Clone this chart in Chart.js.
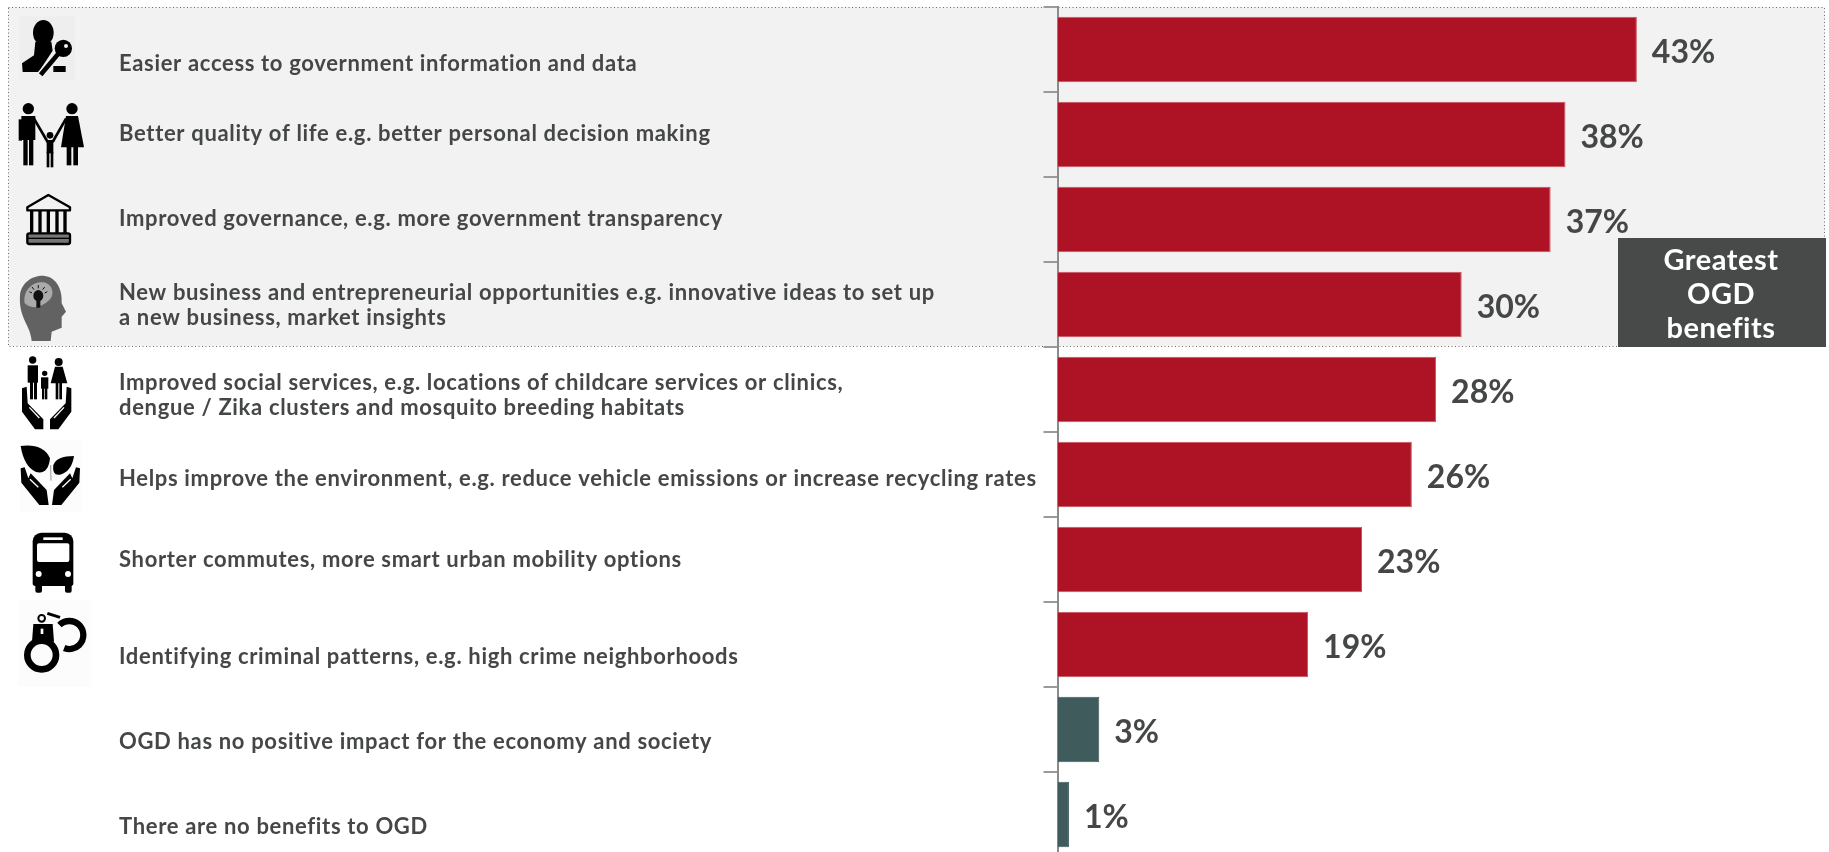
<!DOCTYPE html>
<html>
<head>
<meta charset="utf-8">
<style>
html, body { margin: 0; padding: 0; background: #fff; overflow: hidden; height: 852px; }
canvas { display: block; }
</style>
<script src="https://cdn.jsdelivr.net/npm/chart.js@4/dist/chart.umd.min.js"></script>
</head>
<body>
<canvas id="chart"></canvas>
<script>
const categories = [
    ['Easier access to government information and data'],
    ['Better quality of life e.g. better personal decision making'],
    ['Improved governance, e.g. more government transparency'],
    ['New business and entrepreneurial opportunities e.g. innovative ideas to set up', 'a new business, market insights'],
    ['Improved social services, e.g. locations of childcare services or clinics,', 'dengue / Zika clusters and mosquito breeding habitats'],
    ['Helps improve the environment, e.g. reduce vehicle emissions or increase recycling rates'],
    ['Shorter commutes, more smart urban mobility options'],
    ['Identifying criminal patterns, e.g. high crime neighborhoods'],
    ['OGD has no positive impact for the economy and society'],
    ['There are no benefits to OGD']
];
const shares = [43, 37.7, 36.6, 30, 28.1, 26.3, 22.6, 18.6, 3.1, 0.85];
const shareLabels = ['43%', '38%', '37%', '30%', '28%', '26%', '23%', '19%', '3%', '1%'];
const calloutLines = ['Greatest', 'OGD', 'benefits'];

// the labels do not sit on the bar centres in the original
const labelNudge = [14, -1, -1, 1, 6, 4, 0, 12, 12, 12];
const RED = '#ae1325', TEAL = '#3f5b5c', TEXT = '#444746';
const LABEL_FONT = '700 22px Lato';
const VALUE_FONT = '700 32px Lato';

const ctx = document.getElementById('chart').getContext('2d');
ctx.canvas.width = 1829;
ctx.canvas.height = 858;

// icons are drawn in the coordinates of a 3x crop, see iconAt
const iconAt = (c, top, draw) => {
    c.save();
    c.translate(10, top);
    c.scale(1 / 3, 1 / 3);
    c.fillStyle = c.strokeStyle = '#000';
    c.lineJoin = 'round';
    draw(c);
    c.restore();
};
const poly = (c, pts) => {
    c.beginPath();
    pts.forEach((p, i) => i ? c.lineTo(p[0], p[1]) : c.moveTo(p[0], p[1]));
    c.closePath();
    c.fill();
};
const box = (c, x0, y0, x1, y1) => c.fillRect(x0, y0, x1 - x0, y1 - y0);
const dot = (c, x, y, r) => { c.beginPath(); c.arc(x, y, r, 0, Math.PI * 2); c.fill(); };
const seg = (c, x0, y0, x1, y1, w) => {
    c.lineWidth = w;
    c.beginPath(); c.moveTo(x0, y0); c.lineTo(x1, y1); c.stroke();
};

const iconKey = c => {
    c.fillStyle = '#eeeeee'; box(c, 28, 20, 195, 210); c.fillStyle = '#000';
    c.beginPath(); c.ellipse(100, 68, 31, 38, 0, 0, Math.PI * 2); c.fill();
    poly(c, [[76, 95], [124, 95], [128, 122], [86, 186], [38, 186], [36, 160], [72, 136]]);
    box(c, 130, 168, 167, 186);
    c.strokeStyle = '#f2f2f2';
    seg(c, 150, 125, 90, 196, 22);
    c.fillStyle = '#f2f2f2'; dot(c, 160, 115, 30); c.fillStyle = '#000';
    c.strokeStyle = '#000';
    seg(c, 150, 125, 92, 194, 14);
    dot(c, 160, 115, 26);
    c.fillStyle = '#f2f2f2'; dot(c, 168, 108, 6);
};
const iconFamily = c => {
    dot(c, 55, 296, 17);
    box(c, 34, 318, 76, 390);
    seg(c, 31, 328, 31, 392, 10);
    box(c, 40, 385, 53, 466); box(c, 57, 385, 70, 466);
    seg(c, 72, 326, 113, 396, 8);
    dot(c, 120, 376, 10);
    box(c, 110, 390, 130, 430); box(c, 110, 425, 118, 472); box(c, 122, 425, 130, 472);
    seg(c, 128, 396, 168, 326, 8);
    dot(c, 186, 296, 17);
    poly(c, [[168, 318], [204, 318], [222, 412], [153, 412]]);
    box(c, 170, 410, 184, 466); box(c, 190, 410, 204, 466);
};
const iconBank = c => {
    c.lineWidth = 7;
    c.beginPath();
    c.moveTo(52, 106); c.lineTo(52, 97); c.lineTo(115, 60); c.lineTo(180, 97); c.lineTo(180, 106);
    c.closePath(); c.stroke();
    [60, 85, 110, 136, 160].forEach(x => box(c, x, 108, x + 10, 176));
    c.fillStyle = '#777'; c.beginPath(); c.roundRect(52, 175, 128, 32, 6); c.fill(); c.stroke();
    c.fillStyle = '#000'; box(c, 54, 188, 178, 192);
};
const iconHead = c => {
    c.fillStyle = '#626262';
    c.beginPath();
    c.moveTo(65, 498);
    c.bezierCurveTo(62, 450, 25, 430, 30, 360);
    c.bezierCurveTo(35, 315, 80, 298, 105, 303);
    c.bezierCurveTo(140, 308, 158, 345, 155, 385);
    c.lineTo(168, 410); c.lineTo(155, 425); c.lineTo(155, 458);
    c.lineTo(125, 470); c.lineTo(122, 498);
    c.closePath(); c.fill();
    c.fillStyle = '#aaa';
    c.beginPath();
    c.moveTo(44, 385);
    c.bezierCurveTo(38, 340, 75, 318, 100, 322);
    c.bezierCurveTo(128, 326, 136, 360, 118, 375);
    c.bezierCurveTo(100, 392, 70, 408, 44, 385);
    c.fill();
    c.fillStyle = c.strokeStyle = '#111';
    c.beginPath(); c.ellipse(85, 362, 15, 17, 0, 0, Math.PI * 2); c.fill();
    box(c, 79, 376, 91, 398);
    seg(c, 85, 330, 85, 340, 3); seg(c, 58, 350, 66, 354, 3); seg(c, 112, 350, 104, 354, 3);
    seg(c, 66, 336, 72, 344, 3); seg(c, 104, 336, 98, 344, 3);
};
const hand = (c, pts, fold, mirror) => {
    const m = p => [mirror - p[0], p[1]];
    [pts, pts.map(m)].forEach(shape => poly(c, shape));
    c.strokeStyle = '#fff';
    [fold, fold.map(m)].forEach(f => seg(c, f[0][0], f[0][1], f[1][0], f[1][1], 4));
    c.strokeStyle = '#000';
};
const iconCare = c => {
    dot(c, 68, 30, 11);
    box(c, 53, 46, 84, 98); box(c, 60, 96, 69, 148); box(c, 72, 96, 81, 148);
    dot(c, 104, 70, 8);
    box(c, 93, 82, 115, 116); box(c, 96, 114, 103, 148); box(c, 105, 114, 112, 148);
    dot(c, 146, 36, 12);
    poly(c, [[135, 50], [158, 50], [172, 100], [122, 100]]);
    box(c, 137, 98, 145, 148); box(c, 148, 98, 156, 148);
    hand(c, [[36, 115], [50, 110], [53, 160], [100, 208], [100, 238], [75, 238], [36, 185]],
        [[58, 172], [88, 204]], 220);
};
const iconPlant = c => {
    c.fillStyle = '#fcfcfc'; box(c, 30, 270, 215, 485); c.fillStyle = '#000';
    c.beginPath();
    c.moveTo(32, 288); c.quadraticCurveTo(100, 280, 120, 325);
    c.quadraticCurveTo(115, 375, 78, 366); c.quadraticCurveTo(42, 350, 32, 288);
    c.fill();
    c.beginPath();
    c.moveTo(192, 318); c.quadraticCurveTo(140, 318, 130, 345);
    c.quadraticCurveTo(125, 378, 150, 374); c.quadraticCurveTo(185, 365, 192, 318);
    c.fill();
    c.strokeStyle = '#999'; seg(c, 122, 345, 123, 392, 3); c.strokeStyle = '#000';
    hand(c, [[32, 355], [44, 352], [55, 385], [62, 370], [110, 420], [116, 465], [88, 465], [34, 398]],
        [[60, 388], [85, 412]], 242);
};
const iconBus = c => {
    c.beginPath(); c.roundRect(68, 38, 122, 160, [26, 26, 8, 8]); c.fill();
    c.beginPath(); c.roundRect(76, 190, 20, 28, 6); c.fill();
    c.beginPath(); c.roundRect(165, 190, 20, 28, 6); c.fill();
    c.fillStyle = '#fff';
    box(c, 100, 52, 158, 60);
    c.beginPath(); c.roundRect(81, 70, 97, 56, 6); c.fill();
    dot(c, 86, 162, 9); dot(c, 174, 162, 9);
};
const iconCuffs = c => {
    c.fillStyle = '#fcfcfc'; box(c, 25, 240, 245, 500); c.fillStyle = '#000';
    c.lineWidth = 20;
    c.beginPath(); c.arc(95, 405, 43, 0, Math.PI * 2); c.stroke();
    poly(c, [[70, 312], [128, 312], [132, 365], [66, 365]]);
    c.fillStyle = '#fff'; box(c, 92, 326, 100, 342); c.fillStyle = '#000';
    c.lineWidth = 6;
    c.beginPath(); c.arc(95, 295, 10, 0, Math.PI * 2); c.stroke();
    seg(c, 112, 280, 150, 292, 9);
    c.lineWidth = 19;
    c.beginPath(); c.arc(178, 345, 42, -Math.PI * 0.75, Math.PI * 0.62); c.stroke();
};

const iconList = [
    [10, iconKey], [10, iconFamily], [175, iconBank], [175, iconHead],
    [350, iconCare], [350, iconPlant], [520, iconBus], [520, iconCuffs]
];

const panelPlugin = {
    id: 'panel',
    beforeDraw(chart) {
        const c = chart.ctx;
        c.save();
        c.fillStyle = '#f2f2f2';
        c.fillRect(8, 7, 1817, 339);
        c.strokeStyle = '#6f6f6f';
        c.lineWidth = 1;
        c.setLineDash([1, 2.5]);
        c.strokeRect(8.5, 7.5, 1816, 339);
        c.restore();
    }
};

const textPlugin = {
    id: 'texts',
    afterDraw(chart) {
        const c = chart.ctx, y = chart.scales.y, x = chart.scales.x;
        c.save();
        c.textBaseline = 'middle';
        c.textAlign = 'left';
        c.fillStyle = TEXT;

        c.font = LABEL_FONT;
        c.letterSpacing = '0.67px';
        categories.forEach((lines, i) => {
            const mid = y.getPixelForValue(i) + labelNudge[i];
            lines.forEach((line, j) => {
                c.fillText(line, 119, mid + (j - (lines.length - 1) / 2) * 25);
            });
        });

        c.font = VALUE_FONT;
        c.letterSpacing = '0px';
        shares.forEach((v, i) => {
            c.fillText(shareLabels[i], x.getPixelForValue(v) + 15, y.getPixelForValue(i) + 3);
        });

        c.fillStyle = '#484a49';
        c.fillRect(1618, 238, 208, 109);
        c.fillStyle = '#fff';
        c.textAlign = 'center';
        c.font = '700 29px Lato';
        c.letterSpacing = '0.5px';
        calloutLines.forEach((t, i) => c.fillText(t, 1721, 261 + i * 34));
        c.restore();

        iconList.forEach(([top, draw]) => iconAt(c, top, draw));
    }
};

new Chart(ctx, {
    type: 'bar',
    data: {
        labels: categories,
        datasets: [{
            data: shares,
            backgroundColor: shares.map((v, i) => i < 8 ? RED : TEAL),
            borderColor: shares.map((v, i) => i < 8 ? '#c9505f' : TEAL),
            borderWidth: 1,
            categoryPercentage: 1,
            barPercentage: 0.77
        }]
    },
    options: {
        indexAxis: 'y',
        responsive: false,
        animation: false,
        layout: { padding: { left: 1043.5, right: 3.5, top: 7, bottom: 1 } },
        plugins: { legend: { display: false }, tooltip: { enabled: false } },
        scales: {
            x: { display: false, min: 0, max: 57 },
            y: {
                z: 1,
                ticks: { display: false },
                grid: { drawOnChartArea: false, color: '#9a9a9a', lineWidth: 2, tickLength: 14 },
                border: { color: '#8c8c8c', width: 2 }
            }
        }
    },
    plugins: [panelPlugin, textPlugin]
});
</script>
</body>
</html>
